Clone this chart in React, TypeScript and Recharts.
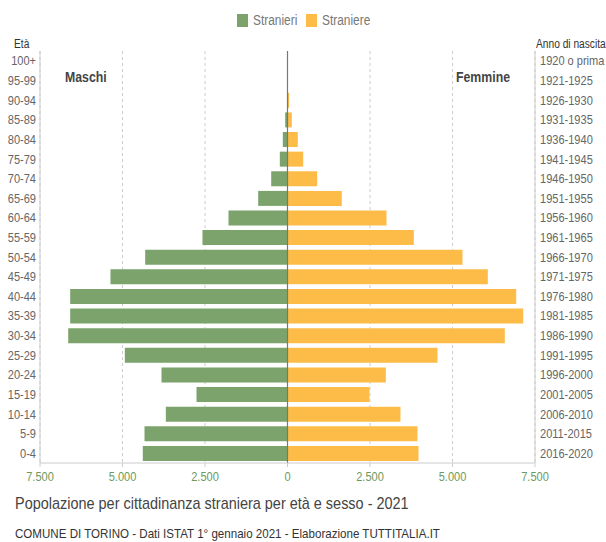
import { BarChart, Bar, XAxis, YAxis, CartesianGrid, ReferenceLine } from 'recharts';

const ageGroups = ['0-4', '5-9', '10-14', '15-19', '20-24', '25-29', '30-34', '35-39', '40-44', '45-49', '50-54', '55-59', '60-64', '65-69', '70-74', '75-79', '80-84', '85-89', '90-94', '95-99', '100+'];
const birthYears = ['2016-2020', '2011-2015', '2006-2010', '2001-2005', '1996-2000', '1991-1995', '1986-1990', '1981-1985', '1976-1980', '1971-1975', '1966-1970', '1961-1965', '1956-1960', '1951-1955', '1946-1950', '1941-1945', '1936-1940', '1931-1935', '1926-1930', '1921-1925', '1920 o prima'];
const stranieri = [4385, 4333, 3687, 2757, 3818, 4929, 6645, 6585, 6585, 5364, 4312, 2576, 1788, 888, 494, 233, 142, 70, 12, 3, 1];
const straniere = [3970, 3939, 3424, 2485, 2980, 4545, 6585, 7142, 6930, 6070, 5303, 3827, 3000, 1645, 900, 475, 312, 130, 50, 10, 2];
const xTicks = [-7500, -5000, -2500, 0, 2500, 5000, 7500];

const GREEN = '#7ba36b';
const ORANGE = '#fdbb48';
const FONT = "'Liberation Sans', Arial, sans-serif";
const SQUEEZE = 0.85;

const data = ageGroups.map((age, i) => ({
  age,
  anno: birthYears[i],
  m: -stranieri[i],
  f: straniere[i],
})).reverse();

const fmt = (v: number) => Math.abs(v).toString().replace(/\B(?=(\d{3})+(?!\d))/g, '.');

// condensed looking tick text (no narrow font installed)
const makeTick = (fill: string, anchor: string, dy: string, format?: (v: any) => string) => (props: any) => {
  const { x, y, payload } = props;
  const label = format ? format(payload.value) : payload.value;
  return (
    <g transform={`translate(${x},${y}) scale(${SQUEEZE},1)`}>
      <text x={0} y={0} dy={dy} textAnchor={anchor} fill={fill} fontSize={13} fontFamily={FONT}>
        {label}
      </text>
    </g>
  );
};

function Narrow({ left, top, size, color, bold, scale = SQUEEZE, children }: any) {
  return (
    <div
      style={{
        position: 'absolute', left, top, fontSize: size, color, fontWeight: bold ? 700 : 400,
        transform: `scaleX(${scale})`, transformOrigin: 'left top', whiteSpace: 'nowrap',
      }}
    >
      {children}
    </div>
  );
}

export default function App() {
  return (
    <div style={{ position: 'absolute', left: 0, top: 0, width: 606, height: 542, background: '#fff', fontFamily: FONT }}>
      <div style={{ position: 'absolute', top: 14, left: 237, width: 11, height: 13, background: GREEN }} />
      <Narrow left={253} top={12} size={14} color="#777">Stranieri</Narrow>
      <div style={{ position: 'absolute', top: 14, left: 306, width: 11, height: 13, background: ORANGE }} />
      <Narrow left={322} top={12} size={14} color="#777">Straniere</Narrow>

      <Narrow left={14} top={37} size={12} color="#333">Età</Narrow>
      <Narrow left={536} top={37} size={12} color="#333">Anno di nascita</Narrow>
      <Narrow left={65} top={68} size={15} color="#444" bold scale={0.82}>Maschi</Narrow>
      <Narrow left={456} top={68} size={15} color="#444" bold scale={0.82}>Femmine</Narrow>

      <BarChart
        width={606}
        height={490}
        data={data}
        layout="vertical"
        stackOffset="sign"
        barCategoryGap="13%"
        margin={{ top: 51, right: 0, left: 0, bottom: 0 }}
        style={{ position: 'absolute', left: 0, top: 0 }}
      >
        <CartesianGrid vertical horizontal={false} strokeDasharray="3 3" stroke="#ccc" />
        <XAxis
          type="number"
          domain={[-7500, 7500]}
          ticks={xTicks}
          height={27}
          axisLine={{ stroke: '#ccc' }}
          tickLine={{ stroke: '#ccc' }}
          tickSize={4}
          tickMargin={5}
          tick={makeTick('#6e9a5e', 'middle', '0.71em', fmt)}
          interval={0}
        />
        <YAxis
          yAxisId="left"
          type="category"
          dataKey="age"
          width={40}
          axisLine={{ stroke: '#ccc' }}
          tickLine={false}
          tickSize={0}
          tickMargin={4}
          tick={makeTick('#666', 'end', '0.355em')}
          interval={0}
        />
        <YAxis
          yAxisId="right"
          orientation="right"
          type="category"
          dataKey="anno"
          width={71}
          axisLine={{ stroke: '#ccc' }}
          tickLine={false}
          tickSize={0}
          tickMargin={5}
          tick={makeTick('#666', 'start', '0.355em')}
          interval={0}
        />
        <Bar yAxisId="left" dataKey="m" stackId="a" fill={GREEN} isAnimationActive={false} />
        <Bar yAxisId="left" dataKey="f" stackId="a" fill={ORANGE} isAnimationActive={false} />
        <ReferenceLine yAxisId="left" x={0} stroke="#777" strokeWidth={1.2} />
      </BarChart>

      <Narrow left={15} top={494} size={17} color="#444">
        Popolazione per cittadinanza straniera per età e sesso - 2021
      </Narrow>
      <Narrow left={15} top={526} size={13} color="#333" scale={0.89}>
        COMUNE DI TORINO - Dati ISTAT 1° gennaio 2021 - Elaborazione TUTTITALIA.IT
      </Narrow>
    </div>
  );
}
